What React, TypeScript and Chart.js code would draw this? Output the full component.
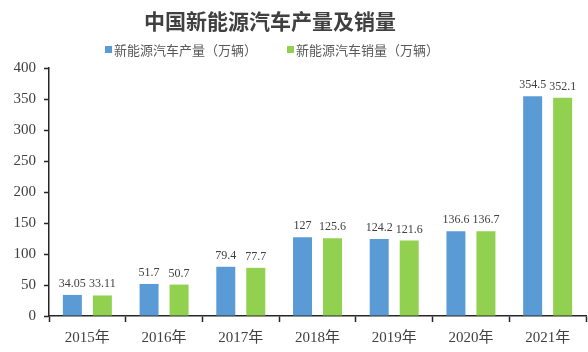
import React, { useEffect, useRef } from "react";
import { Chart, registerables } from "chart.js";

Chart.register(...registerables);

const categories = ["2015年", "2016年", "2017年", "2018年", "2019年", "2020年", "2021年"];
const production = [34.05, 51.7, 79.4, 127, 124.2, 136.6, 354.5];
const sales = [33.11, 50.7, 77.7, 125.6, 121.6, 136.7, 352.1];
const productionLabels = ["34.05", "51.7", "79.4", "127", "124.2", "136.6", "354.5"];
const salesLabels = ["33.11", "50.7", "77.7", "125.6", "121.6", "136.7", "352.1"];
const seriesNames = ["新能源汽车产量（万辆）", "新能源汽车销量（万辆）"];
const titleText = "中国新能源汽车产量及销量";

const BLUE = "#5B9BD5";
const GREEN = "#92D050";
const SERIF = "'Liberation Serif', 'Times New Roman', 'Noto Sans CJK SC', serif";
const CJK = "'Noto Sans CJK SC', 'Noto Sans', sans-serif";

const overlayPlugin = {
  id: "overlay",
  afterDatasetsDraw(chart: any) {
    const ctx = chart.ctx;
    ctx.save();
    // data labels
    ctx.font = `12px ${SERIF}`;
    ctx.fillStyle = "#404040";
    ctx.textAlign = "center";
    ctx.textBaseline = "alphabetic";
    const labelSets = [productionLabels, salesLabels];
    chart.data.datasets.forEach((_: any, di: number) => {
      const meta = chart.getDatasetMeta(di);
      meta.data.forEach((bar: any, i: number) => {
        ctx.fillText(labelSets[di][i], bar.x, bar.y - 8);
      });
    });
    // title
    ctx.font = `bold 21px ${CJK}`;
    ctx.fillStyle = "#404040";
    ctx.textAlign = "center";
    ctx.textBaseline = "middle";
    ctx.fillText(titleText, 270, 21);
    // legend
    ctx.font = `13px ${CJK}`;
    ctx.textAlign = "left";
    const items = [
      { x: 105, color: BLUE, text: seriesNames[0] },
      { x: 287, color: GREEN, text: seriesNames[1] },
    ];
    items.forEach((it) => {
      ctx.fillStyle = it.color;
      ctx.fillRect(it.x, 46, 7, 7);
      ctx.fillStyle = "#595959";
      ctx.fillText(it.text, it.x + 9, 50);
    });
    ctx.restore();
  },
};

export default function App() {
  const canvasRef = useRef<HTMLCanvasElement | null>(null);

  useEffect(() => {
    if (!canvasRef.current) return;
    const chart = new Chart(canvasRef.current, {
      type: "bar",
      data: {
        labels: categories,
        datasets: [
          {
            label: seriesNames[0],
            data: production,
            backgroundColor: BLUE,
            categoryPercentage: 0.782,
            barPercentage: 0.633,
          },
          {
            label: seriesNames[1],
            data: sales,
            backgroundColor: GREEN,
            categoryPercentage: 0.782,
            barPercentage: 0.633,
          },
        ],
      },
      options: {
        animation: false,
        responsive: true,
        maintainAspectRatio: false,
        layout: { padding: { top: 68, right: 2, left: 0, bottom: 0 } },
        plugins: {
          legend: { display: false },
          title: { display: false },
          tooltip: { enabled: false },
        },
        scales: {
          x: {
            grid: {
              display: true,
              offset: true,
              drawOnChartArea: false,
              drawTicks: true,
              tickLength: 6,
              tickWidth: 1.5,
              tickColor: "#262626",
            },
            border: { display: true, color: "#262626", width: 1.5 },
            ticks: {
              color: "#404040",
              font: { family: SERIF, size: 15 },
              padding: 7,
              maxRotation: 0,
            },
            afterFit(scale: any) {
              scale.height = 36;
            },
          },
          y: {
            min: 0,
            max: 400,
            grid: {
              display: true,
              drawOnChartArea: false,
              drawTicks: true,
              tickLength: 5,
              tickWidth: 1.5,
              tickColor: "#262626",
            },
            border: { display: true, color: "#262626", width: 1.5 },
            ticks: {
              stepSize: 50,
              color: "#404040",
              font: { family: SERIF, size: 15 },
              padding: 8,
            },
            afterFit(scale: any) {
              scale.width = 49;
            },
          },
        },
      },
      plugins: [overlayPlugin],
    });
    return () => chart.destroy();
  }, []);

  return (
    <div style={{ position: "fixed", left: 0, top: 0, width: 588, height: 352, background: "#fff" }}>
      <canvas ref={canvasRef} />
    </div>
  );
}
